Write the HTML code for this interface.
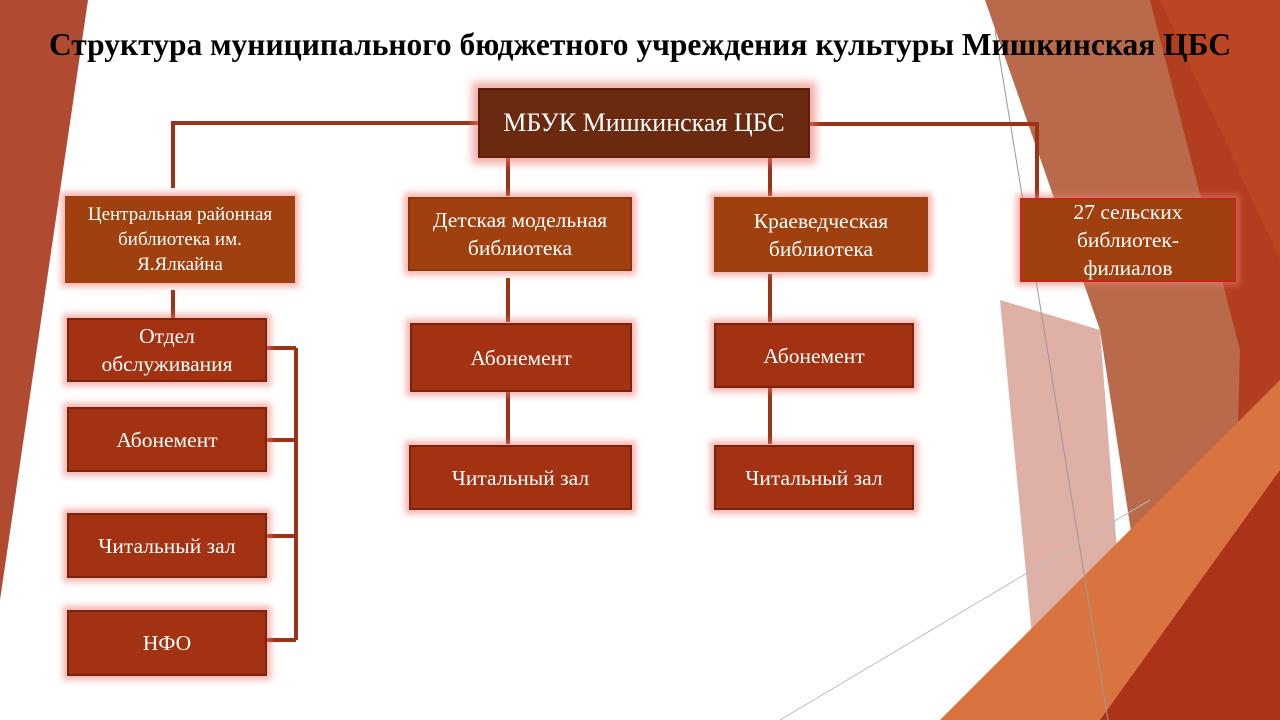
<!DOCTYPE html>
<html><head><meta charset="utf-8"><style>
body{margin:0;width:1280px;height:720px;overflow:hidden;background:#fff;position:relative;font-family:"Liberation Serif",serif}
svg{position:absolute;left:0;top:0}
.b{position:absolute;box-sizing:border-box;color:#fff;display:flex;align-items:center;justify-content:center;text-align:center;font-size:21.5px;line-height:28px;background:#a33212;border:2px solid #7a2410;box-shadow:0 0 6px 4px rgba(235,120,110,0.55)}
.l2{background:#a0400f;border-color:#8a3410}
h1{position:absolute;left:0;width:1280px;top:27px;margin:0;text-align:center;font-size:31.5px;font-weight:bold;color:#000;white-space:nowrap}
</style></head><body>
<svg width="1280" height="720">
<polygon points="0,0 88,0 0,600" fill="#b04a30"/>
<polygon points="985,0 1280,0 1280,720 1160,720 1100,330" fill="#b86a4a"/>
<polygon points="1000,300 1100,330 1130,720 1040,720" fill="#deb0a6"/>
<polygon points="1150,0 1280,0 1280,720 1230,720 1240,350" fill="#b33d1f"/>
<polygon points="1160,0 1280,0 1280,260" fill="#c04a25" opacity="0.7"/>
<polygon points="940,720 1280,380 1280,720" fill="#d9733f"/>
<polygon points="1100,720 1280,470 1280,720" fill="#ab331a"/>
<line x1="995" y1="30" x2="1108" y2="720" stroke="#999" stroke-width="1"/>
<line x1="780" y1="720" x2="1150" y2="500" stroke="#bbb" stroke-width="1"/>
<g stroke="#9c3318" stroke-width="4" fill="none">
<polyline points="480,123 173,123 173,188"/>
<polyline points="808,124 1037,124 1037,198"/>
<line x1="508" y1="158" x2="508" y2="196"/>
<line x1="770" y1="158" x2="770" y2="196"/>
<line x1="173" y1="290" x2="173" y2="318"/>
<line x1="296" y1="348" x2="296" y2="640"/>
<line x1="267" y1="348" x2="296" y2="348"/>
<line x1="267" y1="440" x2="296" y2="440"/>
<line x1="267" y1="536" x2="296" y2="536"/>
<line x1="267" y1="640" x2="296" y2="640"/>
<line x1="508" y1="278" x2="508" y2="322"/>
<line x1="508" y1="392" x2="508" y2="444"/>
<line x1="770" y1="274" x2="770" y2="322"/>
<line x1="770" y1="388" x2="770" y2="444"/>
</g>
</svg>
<h1>Структура муниципального бюджетного учреждения культуры Мишкинская ЦБС</h1>
<div class="b" style="left:478px;top:88px;width:332px;height:70px;background:#6b2a10;border-color:#5a200c;font-size:26px;box-shadow:0 0 8px 6px rgba(235,120,110,0.6)">МБУК Мишкинская ЦБС</div>
<div class="b l2" style="left:65px;top:196px;width:230px;height:87px;font-size:19px;line-height:25px;border:none">Центральная районная<br>библиотека им.<br>Я.Ялкайна</div>
<div class="b l2" style="left:408px;top:197px;width:224px;height:74px">Детская модельная<br>библиотека</div>
<div class="b l2" style="left:714px;top:197px;width:214px;height:75px;border:none">Краеведческая<br>библиотека</div>
<div class="b l2" style="left:1020px;top:198px;width:216px;height:84px;border-color:#c0281a;line-height:28px">27 сельских<br>библиотек-<br>филиалов</div>
<div class="b" style="left:67px;top:318px;width:200px;height:64px">Отдел<br>обслуживания</div>
<div class="b" style="left:67px;top:407px;width:200px;height:65px">Абонемент</div>
<div class="b" style="left:67px;top:513px;width:200px;height:65px">Читальный зал</div>
<div class="b" style="left:67px;top:610px;width:200px;height:66px">НФО</div>
<div class="b" style="left:410px;top:323px;width:222px;height:69px">Абонемент</div>
<div class="b" style="left:409px;top:445px;width:223px;height:65px">Читальный зал</div>
<div class="b" style="left:714px;top:323px;width:200px;height:65px">Абонемент</div>
<div class="b" style="left:714px;top:445px;width:200px;height:65px">Читальный зал</div>
</body></html>
